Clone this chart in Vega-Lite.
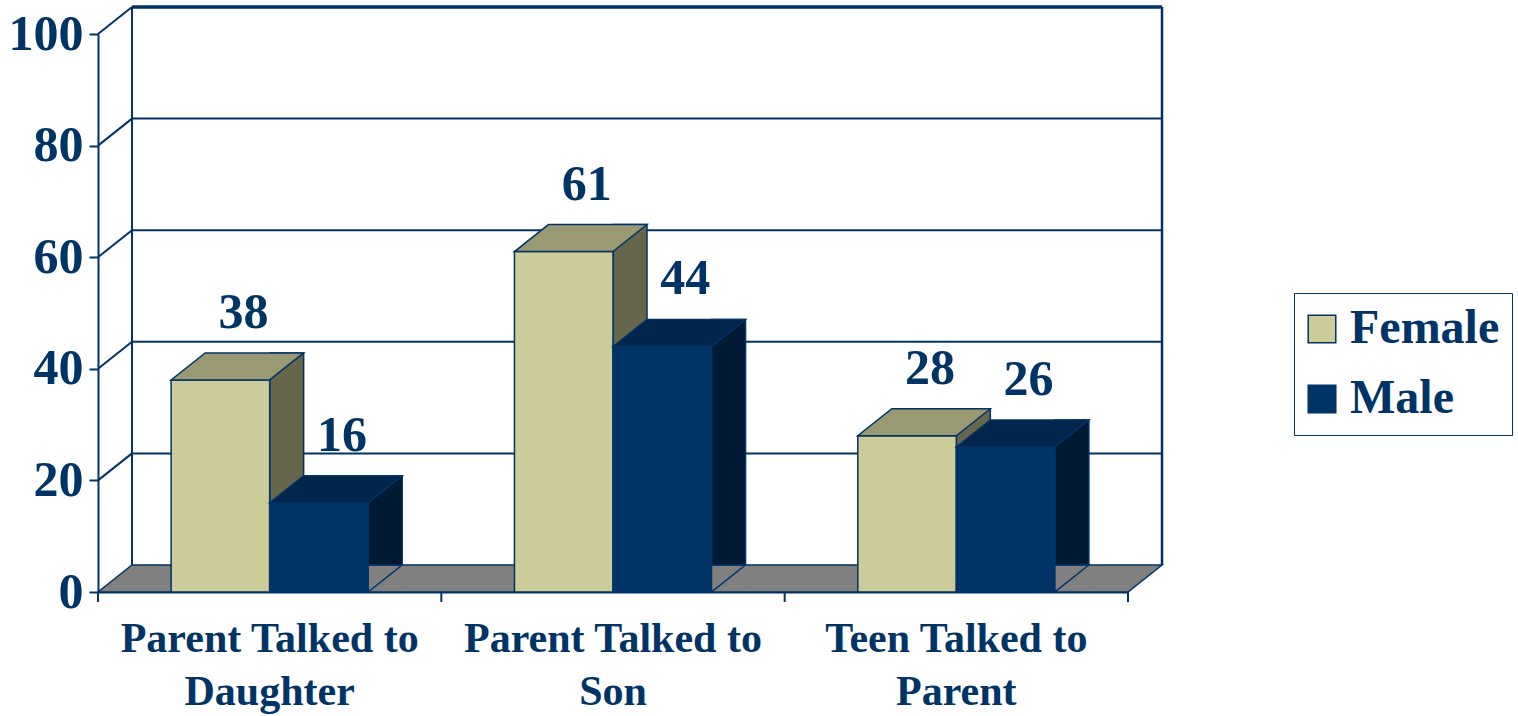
{
  "$schema": "https://vega.github.io/schema/vega-lite/v6.json",
  "width": 1030,
  "height": 558,
  "autosize": {"type": "none"},
  "padding": {"left": 98, "top": 34, "right": 390, "bottom": 124},
  "background": "white",
  "datasets": {
    "bars": [
      {"category": "Parent Talked to Daughter", "gender": "Female", "value": 38},
      {"category": "Parent Talked to Daughter", "gender": "Male", "value": 16},
      {"category": "Parent Talked to Son", "gender": "Female", "value": 61},
      {"category": "Parent Talked to Son", "gender": "Male", "value": 44},
      {"category": "Teen Talked to Parent", "gender": "Female", "value": 28},
      {"category": "Teen Talked to Parent", "gender": "Male", "value": 26}
    ],
    "grid": [{"v": 20}, {"v": 40}, {"v": 60}, {"v": 80}, {"v": 100}],
    "xticks": [{"t": 0}, {"t": 0.33333}, {"t": 0.66667}, {"t": 1}],
    "one": [{"k": 1}]
  },
  "layer": [
    {
      "layer": [
        {
          "data": {"name": "one"},
          "mark": {"type": "point", "shape": "M-1,0L1,0L1.06602,-0.05243L-0.93398,-0.05243Z", "size": 1060900, "filled": true, "fill": "#808080", "stroke": "#003366", "strokeWidth": 1.5, "opacity": 1},
          "encoding": {
            "x": {"datum": 0.5, "type": "quantitative", "scale": {"domain": [0, 1]}, "axis": null},
            "y": {"datum": 0, "type": "quantitative", "title": null}
          }
        },
        {
          "data": {"name": "one"},
          "mark": {"type": "rule", "color": "#003366", "strokeWidth": 2, "xOffset": 34, "yOffset": -27, "y2Offset": -27},
          "encoding": {
            "x": {"datum": 0, "type": "quantitative", "scale": {"domain": [0, 1]}, "axis": null},
            "y": {"datum": 0, "type": "quantitative", "title": null},
            "y2": {"datum": 100}
          }
        },
        {
          "data": {"name": "one"},
          "mark": {"type": "rule", "color": "#003366", "strokeWidth": 2.5, "xOffset": 34, "yOffset": -27, "y2Offset": -27},
          "encoding": {
            "x": {"datum": 1, "type": "quantitative", "scale": {"domain": [0, 1]}, "axis": null},
            "y": {"datum": 0, "type": "quantitative", "title": null},
            "y2": {"datum": 100}
          }
        },
        {
          "data": {"name": "grid"},
          "mark": {"type": "rule", "color": "#003366", "xOffset": 34, "x2Offset": 34, "yOffset": -27},
          "encoding": {
            "x": {"datum": 0, "type": "quantitative", "scale": {"domain": [0, 1]}, "axis": null},
            "x2": {"datum": 1},
            "y": {"field": "v", "type": "quantitative", "title": null},
            "strokeWidth": {"condition": {"test": "datum.v === 100", "value": 3.5}, "value": 2}
          }
        },
        {
          "data": {"name": "grid"},
          "mark": {"type": "rule", "color": "#003366", "strokeWidth": 2, "x2Offset": 34, "y2Offset": -27},
          "encoding": {
            "x": {"datum": 0, "type": "quantitative", "scale": {"domain": [0, 1]}, "axis": null},
            "x2": {"datum": 0},
            "y": {"field": "v", "type": "quantitative", "title": null},
            "y2": {"field": "v"}
          }
        },
        {
          "data": {"name": "xticks"},
          "mark": {"type": "rule", "color": "#003366", "strokeWidth": 2, "y2Offset": 10},
          "encoding": {
            "x": {"field": "t", "type": "quantitative", "scale": {"domain": [0, 1]}, "axis": null},
            "y": {"datum": 0, "type": "quantitative", "title": null},
            "y2": {"datum": 0}
          }
        }
      ]
    },
    {
      "data": {"name": "bars"},
      "layer": [
        {
          "transform": [{"filter": "datum.gender === 'Female'"}],
          "mark": {"type": "bar", "width": 34, "xOffset": 17, "yOffset": -27, "fill": "#66664C", "stroke": "#003366", "strokeWidth": 1.5},
          "encoding": {
            "x": {"field": "category", "type": "nominal", "sort": null},
            "y": {"field": "value", "type": "quantitative", "title": null}
          }
        },
        {
          "transform": [{"filter": "datum.gender === 'Male'"}],
          "mark": {"type": "bar", "width": 34, "xOffset": 115.54, "yOffset": -27, "fill": "#001A33", "stroke": "#003366", "strokeWidth": 1.5},
          "encoding": {
            "x": {"field": "category", "type": "nominal", "sort": null},
            "y": {"field": "value", "type": "quantitative", "title": null}
          }
        },
        {
          "transform": [{"filter": "datum.gender === 'Male'"}],
          "mark": {"type": "point", "shape": "M1.70,-0.54L1.665,-0.54L0.985,0L1.70,0", "size": 10000, "filled": true, "fill": "#808080", "stroke": "#003366", "strokeWidth": 1.5, "opacity": 1},
          "encoding": {
            "x": {"field": "category", "type": "nominal", "sort": null},
            "xOffset": {"field": "gender", "type": "nominal"},
            "y": {"datum": 0, "type": "quantitative", "title": null}
          }
        },
        {
          "mark": {"type": "bar", "stroke": "#003366", "strokeWidth": 1.5},
          "encoding": {
            "x": {
              "field": "category", "type": "nominal", "sort": null, "title": null,
              "scale": {"paddingInner": 0.426, "paddingOuter": 0.213},
              "axis": {
                "labelAngle": 0,
                "labelAlign": "center",
                "ticks": false,
                "labelLimit": 0,
                "labelExpr": "datum.value == 'Parent Talked to Daughter' ? ['Parent Talked to', 'Daughter'] : datum.value == 'Parent Talked to Son' ? ['Parent Talked to', 'Son'] : ['Teen Talked to', 'Parent']"
              }
            },
            "xOffset": {"field": "gender", "type": "nominal", "scale": {"paddingInner": 0, "paddingOuter": 0}},
            "y": {
              "field": "value", "type": "quantitative", "title": null,
              "scale": {"domain": [0, 100], "nice": false},
              "axis": {"values": [0, 20, 40, 60, 80, 100]}
            },
            "color": {
              "field": "gender", "type": "nominal",
              "scale": {"domain": ["Female", "Male"], "range": ["#CCCC99", "#003366"]},
              "legend": {
                "orient": "none", "legendX": 1196, "legendY": 259, "title": null,
                "symbolType": "square", "symbolSize": 760, "symbolStrokeColor": "#003366", "symbolStrokeWidth": 1.5,
                "symbolOffset": -8,
                "labelFontSize": 48, "labelFont": "Liberation Serif", "labelFontWeight": "bold", "labelColor": "#003366",
                "strokeColor": "#003366", "padding": 12, "rowPadding": 22, "labelOffset": 4
              }
            }
          }
        },
        {
          "mark": {"type": "point", "shape": "M-0.985,0L0.985,0L1.665,-0.54L-0.305,-0.54Z", "size": 10000, "filled": true, "stroke": "#003366", "strokeWidth": 1.5, "opacity": 1},
          "encoding": {
            "x": {"field": "category", "type": "nominal", "sort": null},
            "xOffset": {"field": "gender", "type": "nominal"},
            "y": {"field": "value", "type": "quantitative", "title": null},
            "fill": {"condition": {"test": "datum.gender === 'Female'", "value": "#999973"}, "value": "#00264C"}
          }
        },
        {
          "mark": {"type": "text", "dx": 23, "dy": -52, "baseline": "alphabetic", "fontSize": 50, "fontWeight": "bold", "font": "Liberation Serif", "color": "#003366"},
          "encoding": {
            "x": {"field": "category", "type": "nominal", "sort": null},
            "xOffset": {"field": "gender", "type": "nominal"},
            "y": {"field": "value", "type": "quantitative", "title": null},
            "text": {"field": "value", "type": "quantitative"}
          }
        }
      ]
    }
  ],
  "resolve": {"scale": {"x": "independent"}, "axis": {"x": "independent"}},
  "config": {
    "view": {"stroke": null},
    "font": "Liberation Serif",
    "axis": {
      "grid": false,
      "domainColor": "#003366",
      "domainWidth": 2,
      "tickColor": "#003366",
      "tickWidth": 2,
      "labelColor": "#003366",
      "labelFont": "Liberation Serif",
      "labelFontWeight": "bold"
    },
    "axisY": {"labelFontSize": 50, "tickSize": 9, "labelPadding": 6},
    "axisX": {"labelFontSize": 42, "labelPadding": 46, "labelLineHeight": 53}
  }
}
